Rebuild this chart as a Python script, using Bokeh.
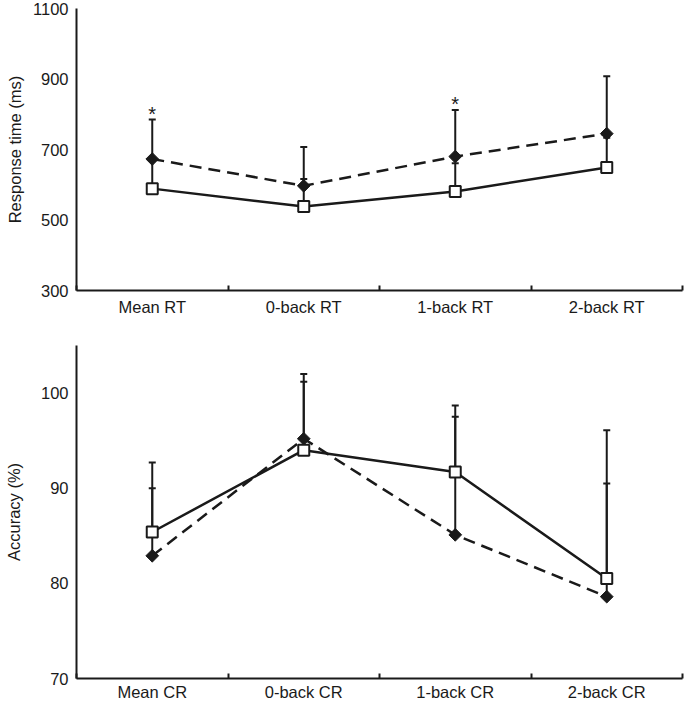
import numpy as np
from bokeh.plotting import figure
from bokeh.layouts import column
from bokeh.models import FixedTicker, Range1d
from bokeh.core.properties import value
from bokeh.embed import file_html
from bokeh.resources import INLINE

# ---- data ----
rt_categories = ["Mean RT", "0-back RT", "1-back RT", "2-back RT"]
rt_solid = [589, 538, 581, 649]          # open squares, solid line
rt_solid_err = [80, 78, 80, 84]
rt_dashed = [673, 597, 680, 745]         # filled diamonds, dashed line
rt_dashed_err = [112, 110, 132, 163]
rt_significant = [True, False, True, False]
rt_yticks = [300, 500, 700, 900, 1100]

cr_categories = ["Mean CR", "0-back CR", "1-back CR", "2-back CR"]
cr_solid = [85.4, 94.0, 91.7, 80.5]
cr_solid_err = [7.3, 7.2, 7.0, 15.6]
cr_dashed = [82.9, 95.2, 85.1, 78.6]
cr_dashed_err = [7.1, 6.8, 12.4, 11.9]
cr_significant = [False, False, False, False]
cr_yticks = [70, 80, 90, 100]

FONT = "Liberation Sans"
INK = "#1a1a1a"
FS = "16.5px"


def make_panel(cats, solid, solid_err, dashed, dashed_err, sig, ylo, yhi, yticks,
               ylabel, height, top, bottom, label_standoff, xlabel_standoff):
    n = len(cats)
    x = np.arange(n) + 0.5
    p = figure(width=685, height=height, x_range=Range1d(0, n), y_range=Range1d(ylo, yhi),
               output_backend="svg", toolbar_location=None,
               min_border_left=76, min_border_right=3,
               min_border_top=top, min_border_bottom=bottom)
    p.outline_line_color = None
    p.grid.visible = False
    p.background_fill_color = "white"
    p.border_fill_color = "white"

    solid = np.array(solid, dtype=float)
    dashed = np.array(dashed, dtype=float)
    s_hi = solid + np.array(solid_err, dtype=float)
    d_hi = dashed + np.array(dashed_err, dtype=float)

    # error bars (upper only)
    p.segment(x, solid, x, s_hi, line_width=2, line_color=INK)
    p.segment(x, dashed, x, d_hi, line_width=2, line_color=INK)
    p.scatter(x, s_hi, marker="dash", size=7, line_width=2, line_color=INK)
    p.scatter(x, d_hi, marker="dash", size=7, line_width=2, line_color=INK)

    # series lines
    p.line(x, dashed, line_width=2.5, line_color=INK, line_dash="12 7")
    p.line(x, solid, line_width=2.5, line_color=INK)

    # markers
    p.scatter(x, dashed, marker="square", angle=np.pi / 4, size=9,
              fill_color=INK, line_color=INK, line_width=1)
    p.scatter(x, solid, marker="square", size=11, fill_color="white",
              line_color=INK, line_width=2)

    # significance stars
    sig = np.array(sig, dtype=bool)
    if sig.any():
        p.text(x[sig], d_hi[sig], text=["*"] * int(sig.sum()), text_align="center",
               text_baseline="alphabetic", y_offset=-6, text_font=value(FONT),
               text_font_size="20px", text_color=INK)

    # x axis
    xa = p.xaxis[0]
    xa.ticker = FixedTicker(ticks=list(x), minor_ticks=list(range(0, n + 1)))
    xa.major_label_overrides = {float(xi): c for xi, c in zip(x, cats)}
    xa.major_tick_line_color = None
    xa.major_tick_in = 0
    xa.major_tick_out = 0
    xa.minor_tick_in = 5
    xa.minor_tick_out = 0
    xa.minor_tick_line_width = 2
    xa.minor_tick_line_color = INK
    xa.axis_line_width = 2
    xa.axis_line_color = INK
    xa.major_label_standoff = xlabel_standoff
    xa.major_label_text_font = FONT
    xa.major_label_text_font_size = FS
    xa.major_label_text_color = INK

    # y axis
    ya = p.yaxis[0]
    ya.ticker = FixedTicker(ticks=yticks)
    ya.major_tick_line_color = None
    ya.major_tick_in = 0
    ya.major_tick_out = 0
    ya.minor_tick_line_color = None
    ya.axis_line_width = 2
    ya.axis_line_color = INK
    ya.major_label_standoff = 8
    ya.major_label_text_font = FONT
    ya.major_label_text_font_size = FS
    ya.major_label_text_color = INK
    ya.axis_label = ylabel
    ya.axis_label_standoff = label_standoff
    ya.axis_label_text_font = FONT
    ya.axis_label_text_font_size = FS
    ya.axis_label_text_font_style = "normal"
    ya.axis_label_text_color = INK
    return p


top = make_panel(rt_categories, rt_solid, rt_solid_err, rt_dashed, rt_dashed_err,
                 rt_significant, 300, 1100, rt_yticks, "Response time (ms)",
                 height=326, top=8, bottom=36, label_standoff=6, xlabel_standoff=7)
bot = make_panel(cr_categories, cr_solid, cr_solid_err, cr_dashed, cr_dashed_err,
                 cr_significant, 70, 105, cr_yticks, "Accuracy (%)",
                 height=377, top=19, bottom=25, label_standoff=15, xlabel_standoff=4)

layout = column(top, bot)
open("out.html", "w").write(file_html(layout, INLINE))
